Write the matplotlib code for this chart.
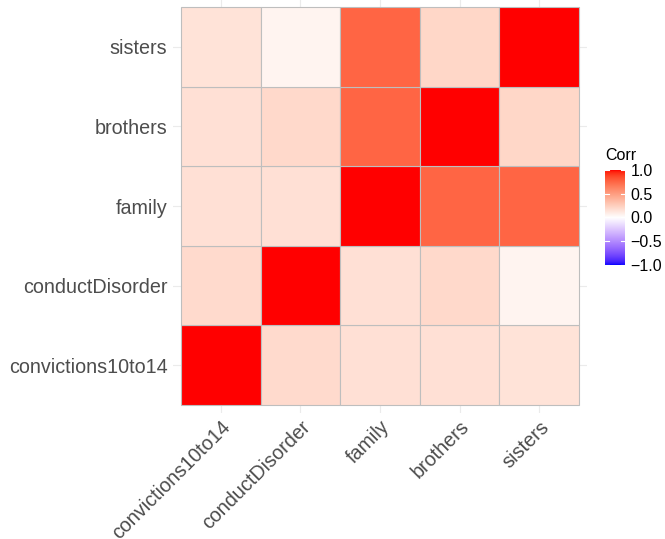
import numpy as np
import matplotlib
matplotlib.use("Agg")
import matplotlib.pyplot as plt
from matplotlib.colors import ListedColormap, Normalize
from matplotlib.patches import Rectangle

# Variables and their pairwise correlations
variables = ["convictions10to14", "conductDisorder", "family", "brothers", "sisters"]
corr = np.array([
    [1.00, 0.19, 0.16, 0.16, 0.15],
    [0.19, 1.00, 0.16, 0.20, 0.06],
    [0.16, 0.16, 1.00, 0.76, 0.76],
    [0.16, 0.20, 0.76, 1.00, 0.21],
    [0.15, 0.06, 0.76, 0.21, 1.00],
])
legend_ticks = [1.0, 0.5, 0.0, -0.5, -1.0]
legend_title = "Corr"


# --- blue / white / red diverging scale interpolated in CIE Lab ---
def srgb_to_lab(rgb):
    rgb = np.asarray(rgb, float)
    lin = np.where(rgb <= 0.04045, rgb / 12.92, ((rgb + 0.055) / 1.055) ** 2.4)
    M = np.array([[0.4124, 0.3576, 0.1805],
                  [0.2126, 0.7152, 0.0722],
                  [0.0193, 0.1192, 0.9505]])
    xyz = M @ lin / np.array([0.95047, 1.0, 1.08883])
    f = np.where(xyz > 0.008856, np.cbrt(xyz), 7.787 * xyz + 16 / 116)
    return np.array([116 * f[1] - 16, 500 * (f[0] - f[1]), 200 * (f[1] - f[2])])


def lab_to_srgb(lab):
    L, a, b = lab
    fy = (L + 16) / 116
    fx = fy + a / 500
    fz = fy - b / 200
    f = np.array([fx, fy, fz])
    xyz = np.where(f ** 3 > 0.008856, f ** 3, (f - 16 / 116) / 7.787)
    xyz = xyz * np.array([0.95047, 1.0, 1.08883])
    Minv = np.array([[3.2406, -1.5372, -0.4986],
                     [-0.9689, 1.8758, 0.0415],
                     [0.0557, -0.2040, 1.0570]])
    lin = np.clip(Minv @ xyz, 0, 1)
    rgb = np.where(lin <= 0.0031308, 12.92 * lin, 1.055 * lin ** (1 / 2.4) - 0.055)
    return np.clip(rgb, 0, 1)


low, mid, high = srgb_to_lab([0, 0, 1]), srgb_to_lab([1, 1, 1]), srgb_to_lab([1, 0, 0])
colors = []
for t in np.linspace(-1, 1, 511):
    if t < 0:
        lab = mid + (low - mid) * (-t)
    else:
        lab = mid + (high - mid) * t
    colors.append(lab_to_srgb(lab))
cmap = ListedColormap(colors)
norm = Normalize(-1, 1)

# --- figure ---
W, H = 665, 539
fig = plt.figure(figsize=(W / 100, H / 100), dpi=100)
plt.rcParams["font.family"] = ["Liberation Sans", "DejaVu Sans"]

px_l, px_r, px_t, px_b = 173, 587, -1, 413
ax = fig.add_axes([px_l / W, 1 - px_b / H, (px_r - px_l) / W, (px_b - px_t) / H])
n = len(variables)
ax.set_xlim(-0.6, n - 0.4)
ax.set_ylim(-0.6, n - 0.4)
for s in ax.spines.values():
    s.set_visible(False)

for k in range(n):
    ax.axvline(k, color="#EBEBEB", lw=0.8, zorder=0)
    ax.axhline(k, color="#EBEBEB", lw=0.8, zorder=0)

for i in range(n):          # row (y)
    for j in range(n):      # column (x)
        ax.add_patch(Rectangle((j - 0.5, i - 0.5), 1, 1,
                               facecolor=cmap(norm(corr[i, j])),
                               edgecolor="#BEBEBE", lw=0.8, zorder=2))

ax.set_xticks(range(n))
ax.set_yticks(range(n))
ax.set_yticklabels(variables, fontsize=14.2, color="#4D4D4D")
ax.set_xticklabels(variables, fontsize=14.2, color="#4D4D4D",
                   rotation=45, ha="right", va="top", rotation_mode="anchor")
ax.tick_params(axis="both", length=0)
ax.tick_params(axis="y", pad=4)
ax.tick_params(axis="x", pad=3)

# --- colour bar legend ---
cb_l, cb_r, cb_t, cb_b = 605, 625, 169, 266
cax = fig.add_axes([cb_l / W, 1 - cb_b / H, (cb_r - cb_l) / W, (cb_b - cb_t) / H])
grad = np.linspace(-1, 1, 300).reshape(-1, 1)
cax.imshow(grad, cmap=cmap, norm=norm, aspect="auto", origin="lower",
           extent=[0, 1, -1, 1])
cax.set_xlim(0, 1)
cax.set_ylim(-1.03, 1.03)
for s in cax.spines.values():
    s.set_visible(False)
cax.set_xticks([])
for v in legend_ticks:
    cax.plot([0, 0.2], [v, v], color="white", lw=0.8)
    cax.plot([0.8, 1], [v, v], color="white", lw=0.8)
cax.yaxis.tick_right()
cax.set_yticks(legend_ticks)
cax.set_yticklabels([f"{v:.1f}".replace("-", "\u2212") for v in legend_ticks],
                    fontsize=11.5, color="black")
cax.tick_params(axis="y", length=0, pad=4)
fig.text(cb_l / W, 1 - 155 / H, legend_title, fontsize=11.5, color="black",
         ha="left", va="center")

fig.savefig("out.png", dpi=100, facecolor="white")
